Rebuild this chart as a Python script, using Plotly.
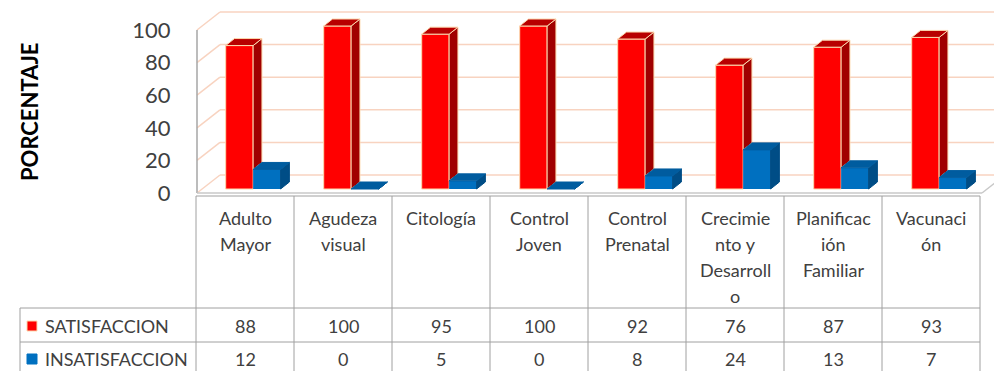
import plotly.graph_objects as go

# ---------------- data ----------------
CATEGORY_LINES = [
    ["Adulto", "Mayor"],
    ["Agudeza", "visual"],
    ["Citología"],
    ["Control", "Joven"],
    ["Control", "Prenatal"],
    ["Crecimie", "nto y", "Desarroll", "o"],
    ["Planificac", "ión", "Familiar"],
    ["Vacunaci", "ón"],
]
SERIES_NAMES = ["SATISFACCION", "INSATISFACCION"]
SATISFACCION = [88, 100, 95, 100, 92, 76, 87, 93]
INSATISFACCION = [12, 0, 5, 0, 8, 24, 13, 7]
Y_TICKS = [0, 20, 40, 60, 80, 100]
Y_TITLE = "PORCENTAJE"

# ---------------- styling / geometry ----------------
W, H = 994, 371
ML = 196                  # left margin in px (front-left edge of chart)
PW = W - ML
COL_PX = 98               # px per category
PX_PER_UNIT = 1.63        # px per percentage point
Y0_PX = 193               # pixel row of value 0 on the front plane
FONT = "Lato"
TXT = "#404040"
GRID = "#F8D3C0"
EDGE = "#A6A6A6"
TABLE = "#A0A0A0"
TFS = 18                  # table font size

RED = dict(front="#FF0000", side="#A00000", top="#B80000", edge="#FCD9AE")
BLUE = dict(front="#0070C0", side="#004D86", top="#005C9F", edge="#0070C0")

BAR_W = 0.28
RED_C = 0.443
BLUE_C = RED_C + BAR_W
BASE = 4 / PX_PER_UNIT        # bars stand slightly behind the front edge
DX = 0.09                     # depth offset of bar (category units)
DY = 7 / PX_PER_UNIT          # depth offset of bar (value units)
WDX = 23 / COL_PX             # depth of the back wall
WDY = 18 / PX_PER_UNIT

x_range = [0, PW / COL_PX]
y_range = [(Y0_PX - H) / PX_PER_UNIT, Y0_PX / PX_PER_UNIT]


def PX(px):
    return (px - ML) / PW


def PY(py):
    return 1 - py / H


fig = go.Figure()

# ---- front faces (real bars) ----
n = len(SATISFACCION)
xs = list(range(n))
fig.add_trace(go.Bar(x=[i + RED_C for i in xs], y=SATISFACCION, base=BASE, width=BAR_W,
                     marker=dict(color=RED["front"], line=dict(color=RED["edge"], width=1)),
                     name=SERIES_NAMES[0], showlegend=False))
fig.add_trace(go.Bar(x=[i + BLUE_C for i in xs], y=INSATISFACCION, base=BASE, width=BAR_W,
                     marker=dict(color=BLUE["front"], line=dict(width=0)),
                     name=SERIES_NAMES[1], showlegend=False))


def poly_trace(polys, fill, line_color):
    px_, py_ = [], []
    for p in polys:
        for (a, b) in p:
            px_.append(a)
            py_.append(b)
        px_.append(p[0][0])
        py_.append(p[0][1])
        px_.append(None)
        py_.append(None)
    return go.Scatter(x=px_, y=py_, mode="lines", fill="toself", fillcolor=fill,
                      line=dict(color=line_color, width=1), hoverinfo="skip",
                      showlegend=False)


red_side, red_top, blue_side, blue_top = [], [], [], []
for i in xs:
    # red bar
    x0 = i + RED_C - BAR_W / 2
    x1 = x0 + BAR_W
    t = BASE + SATISFACCION[i]
    bt = BASE + INSATISFACCION[i]       # blue bar hides the lower part of red side
    lo = max(BASE, bt)
    red_side.append([(x1, lo), (x1 + DX, lo + DY), (x1 + DX, t + DY), (x1, t)])
    red_top.append([(x0, t), (x0 + DX, t + DY), (x1 + DX, t + DY), (x1, t)])
    # blue bar
    b0 = i + BLUE_C - BAR_W / 2
    b1 = b0 + BAR_W
    blue_side.append([(b1, BASE), (b1 + DX, BASE + DY), (b1 + DX, bt + DY), (b1, bt)])
    blue_top.append([(b0, bt), (b0 + DX, bt + DY), (b1 + DX, bt + DY), (b1, bt)])

fig.add_trace(poly_trace(red_side, RED["side"], RED["edge"]))
fig.add_trace(poly_trace(red_top, RED["top"], RED["edge"]))
fig.add_trace(poly_trace(blue_side, BLUE["side"], BLUE["side"]))
fig.add_trace(poly_trace(blue_top, BLUE["top"], BLUE["top"]))

shapes = []
# ---- walls: back-wall gridlines and left-wall diagonals ----
xl = 1 / COL_PX
for v in Y_TICKS:
    shapes.append(dict(type="line", xref="x", yref="y", x0=xl + WDX, x1=x_range[1] + 1,
                       y0=v + WDY, y1=v + WDY, line=dict(color=GRID, width=1.5), layer="below"))
    shapes.append(dict(type="line", xref="x", yref="y", x0=xl, x1=xl + WDX,
                       y0=v, y1=v + WDY, line=dict(color=GRID, width=1.5), layer="below"))
# left wall front edge
shapes.append(dict(type="line", xref="x", yref="y", x0=xl, x1=xl, y0=0, y1=Y_TICKS[-1],
                   line=dict(color=EDGE, width=1.5), layer="below"))
# floor front edge and right edge
xr = (982 - ML) / COL_PX
shapes.append(dict(type="line", xref="x", yref="y", x0=xl, x1=xr, y0=0, y1=0,
                   line=dict(color="#C8C8C8", width=1.5), layer="below"))
shapes.append(dict(type="line", xref="x", yref="y", x0=xr, x1=xr + WDX, y0=0, y1=WDY,
                   line=dict(color="#C8C8C8", width=1.5), layer="below"))

# ---- data table ----
tab_top, row1, row2, tab_bot = 196, 308, 342, 371
tab_left = 20
tab_right_px = ML + COL_PX * n
for i in range(n + 1):
    xp = PX(ML + COL_PX * i)
    shapes.append(dict(type="line", xref="paper", yref="paper", x0=xp, x1=xp,
                       y0=PY(tab_top), y1=PY(tab_bot), line=dict(color=TABLE, width=1)))
shapes.append(dict(type="line", xref="paper", yref="paper", x0=PX(ML), x1=PX(tab_right_px),
                   y0=PY(tab_top), y1=PY(tab_top), line=dict(color=TABLE, width=1)))
for r in (row1, row2):
    shapes.append(dict(type="line", xref="paper", yref="paper", x0=PX(tab_left), x1=PX(tab_right_px),
                       y0=PY(r), y1=PY(r), line=dict(color=TABLE, width=1)))
shapes.append(dict(type="line", xref="paper", yref="paper", x0=PX(tab_left), x1=PX(tab_left),
                   y0=PY(row1), y1=PY(tab_bot), line=dict(color=TABLE, width=1)))
# legend keys
for (yc, col, ln) in ((326, RED["front"], RED["edge"]), (359, BLUE["front"], BLUE["front"])):
    shapes.append(dict(type="rect", xref="paper", yref="paper", x0=PX(27), x1=PX(37),
                       y0=PY(yc - 5), y1=PY(yc + 5), fillcolor=col, line=dict(color=ln, width=1)))

annotations = []
for i, lines in enumerate(CATEGORY_LINES):
    for k, s in enumerate(lines):
        annotations.append(dict(x=PX(ML + COL_PX * (i + 0.5)), y=PY(218 + 26 * k), xref="paper", yref="paper",
                                text=s, showarrow=False, xanchor="center", yanchor="middle",
                                font=dict(family=FONT, size=TFS, color=TXT)))
for yc, vals in ((326, SATISFACCION), (359, INSATISFACCION)):
    for i, v in enumerate(vals):
        annotations.append(dict(x=PX(ML + COL_PX * (i + 0.5)), y=PY(yc), xref="paper", yref="paper",
                                text=str(v), showarrow=False, xanchor="center", yanchor="middle",
                                font=dict(family=FONT, size=TFS, color=TXT)))
for yc, name in ((326, SERIES_NAMES[0]), (359, SERIES_NAMES[1])):
    annotations.append(dict(x=PX(43), y=PY(yc), xref="paper", yref="paper", text=name,
                            showarrow=False, xanchor="left", yanchor="middle",
                            font=dict(family=FONT, size=TFS, color=TXT)))
annotations.append(dict(x=PX(30), y=PY(112), xref="paper", yref="paper", text="<b>" + Y_TITLE + "</b>",
                        textangle=-90, showarrow=False, xanchor="center", yanchor="middle",
                        font=dict(family=FONT, size=22, color="#000000")))

fig.update_layout(
    width=W, height=H, margin=dict(l=ML, r=0, t=0, b=0),
    paper_bgcolor="white", plot_bgcolor="white",
    barmode="overlay", showlegend=False,
    shapes=shapes, annotations=annotations,
    xaxis=dict(range=x_range, visible=False, fixedrange=True),
    yaxis=dict(range=y_range, tickvals=Y_TICKS, ticktext=[str(v) for v in Y_TICKS],
               showgrid=False, zeroline=False, showline=False,
               ticks="outside", ticklen=20, tickcolor="rgba(0,0,0,0)",
               tickfont=dict(family=FONT, size=22, color=TXT), fixedrange=True),
)

fig.write_html("out.html")
